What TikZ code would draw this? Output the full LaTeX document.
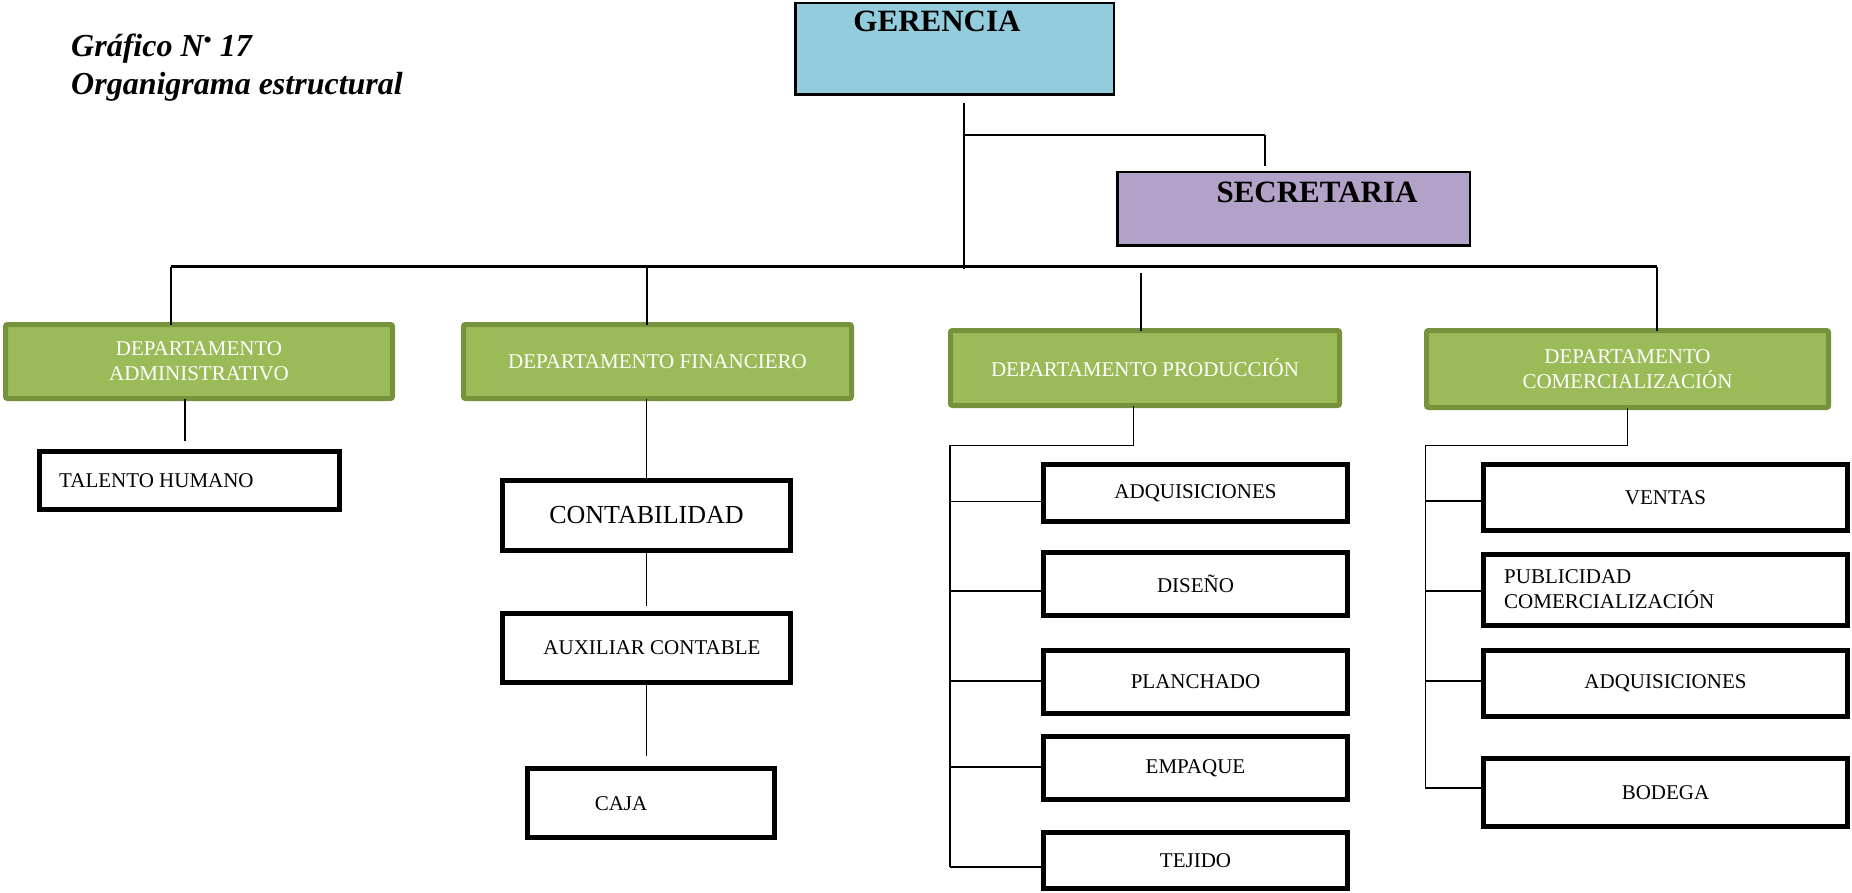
\documentclass[tikz,border=0pt]{standalone}
\usepackage{fontspec}
\setmainfont{Liberation Serif}
\definecolor{gerfill}{HTML}{93CDDD}
\definecolor{secfill}{HTML}{B2A2C7}
\definecolor{depfill}{HTML}{9BBB59}
\definecolor{depline}{HTML}{76923C}
\tikzset{
  basebox/.style={rectangle, inner sep=0pt, outer sep=0pt},
  topbox/.style={basebox, draw=black, line width=2.5pt},
  dept/.style={basebox, draw=depline, fill=depfill, line width=5pt, rounded corners=2pt,
    text=white, align=center, font=\fontsize{21}{25}\selectfont},
  unitbox/.style={basebox, draw=black, line width=5pt, align=center, font=\fontsize{21}{25}\selectfont},
  conn/.style={line width=1.6pt},
  bus/.style={line width=2.6pt},
  lbl/.style={inner sep=0pt, font=\fontsize{21}{25}\selectfont},
  toplbl/.style={inner sep=0pt, anchor=base, font=\bfseries\fontsize{31}{37}\selectfont},
  ttl/.style={inner sep=0pt, anchor=base west, font=\bfseries\itshape\fontsize{32}{38}\selectfont},
}
\begin{document}
\begin{tikzpicture}[x=1pt,y=-1pt]
\useasboundingbox (0,0) rectangle (1852,893);
% title
\node[ttl] (t1) at (71,57) {Gráfico N\textsuperscript{•} 17};
\node[ttl] (t2) at (71,95) {Organigrama estructural};
% top boxes
\node[topbox, fill=gerfill, minimum width=318.5pt, minimum height=91.5pt] (ger) at (954.5,49) {};
\node[toplbl] (gert) at (937,32) {GERENCIA};
\node[topbox, fill=secfill, minimum width=352.5pt, minimum height=73.5pt] (sec) at (1293.5,209) {};
\node[toplbl] (sect) at (1317,203) {SECRETARIA};
% departments
\node[dept, minimum width=387pt, minimum height=74pt] (adm) at (199,361.5) {DEPARTAMENTO\\ADMINISTRATIVO};
\node[dept, minimum width=388pt, minimum height=74pt] (fin) at (657.5,361.5) {DEPARTAMENTO FINANCIERO};
\node[dept, minimum width=389pt, minimum height=75pt] (prod) at (1145,368) {DEPARTAMENTO PRODUCCIÓN};
\node[dept, minimum width=402pt, minimum height=77pt] (com) at (1627.5,369) {DEPARTAMENTO\\COMERCIALIZACIÓN};
% admin
\node[unitbox, minimum width=300pt, minimum height=58pt] (tal) at (189.5,480.5) {};
\node[lbl, anchor=west] (talt) at (59,481) {TALENTO HUMANO};
% finance
\node[unitbox, minimum width=288pt, minimum height=70pt, font=\fontsize{26}{30}\selectfont] (cont) at (646.5,515.5) {CONTABILIDAD};
\node[unitbox, minimum width=288pt, minimum height=69pt] (aux) at (646.5,648) {};
\node[lbl] (auxt) at (652,648) {AUXILIAR CONTABLE};
\node[unitbox, minimum width=247pt, minimum height=69pt] (caja) at (651,803) {};
\node[lbl] (cajat) at (621,804) {CAJA};
% production
\node[unitbox, minimum width=304pt, minimum height=57pt] (padq) at (1195.5,493) {ADQUISICIONES};
\node[unitbox, minimum width=304pt, minimum height=63pt] (pdis) at (1195.5,584) {DISEÑO};
\node[unitbox, minimum width=304pt, minimum height=63pt] (ppla) at (1195.5,682) {PLANCHADO};
\node[unitbox, minimum width=304pt, minimum height=63pt] (pemp) at (1195.5,768) {EMPAQUE};
\node[unitbox, minimum width=304pt, minimum height=56pt] (ptej) at (1195.5,860.5) {TEJIDO};
% commercial
\node[unitbox, minimum width=364pt, minimum height=66pt] (cven) at (1665.5,497.5) {VENTAS};
\node[unitbox, minimum width=364pt, minimum height=71pt] (cpub) at (1665.5,589.5) {};
\node[lbl, anchor=west, align=left] (cpubt) at (1504,589.5) {PUBLICIDAD\\COMERCIALIZACIÓN};
\node[unitbox, minimum width=364pt, minimum height=66pt] (cadq) at (1665.5,683.5) {ADQUISICIONES};
\node[unitbox, minimum width=364pt, minimum height=68.5pt] (cbod) at (1665.5,792.7) {BODEGA};
% connectors: top
\coordinate (g0) at (964,103);
\coordinate (g1) at (964,269);
\draw[conn] (g0) -- (g1);
\coordinate (s0) at (964,135);
\coordinate (s1) at (1265,135);
\coordinate (s2) at (1265,166);
\draw[bus] (s0) -- (s1);
\draw[conn] (s1) -- (s2);
\coordinate (b0) at (171,266.7);
\coordinate (b1) at (1657,266.7);
\draw[bus] (b0) -- (b1);
\draw[conn] (b0) -- (b0 |- adm.north);
\coordinate (bf) at (647,266.7);
\draw[conn] (bf) -- (bf |- fin.north);
\coordinate (bp) at (1141,273);
\draw[conn] (bp) -- (bp |- prod.north);
\draw[conn] (b1) -- (b1 |- com.north);
% admin
\coordinate (ad) at (185,441);
\draw[conn] (ad |- adm.south) -- (ad);
% finance
\draw[conn] (fin.south -| cont.north) -- (cont.north);
\coordinate (f1) at (646.5,606);
\draw[conn] (cont.south) -- (f1);
\coordinate (f2) at (646.5,756);
\draw[conn] (aux.south) -- (f2);
% production tree
\coordinate (p1) at (1133.4,445.6);
\coordinate (p2) at (950,445.6);
\coordinate (p3) at (950,867);
\draw[conn] (p1 |- prod.south) -- (p1) -- (p2) -- (p3);
\coordinate (pa) at (950,501.6);
\coordinate (pb) at (950,591);
\coordinate (pc) at (950,681);
\coordinate (pd) at (950,767);
\draw[conn] (pa) -- (pa -| padq.west);
\draw[conn] (pb) -- (pb -| pdis.west);
\draw[conn] (pc) -- (pc -| ppla.west);
\draw[conn] (pd) -- (pd -| pemp.west);
\draw[conn] (p3) -- (p3 -| ptej.west);
% commercial tree
\coordinate (q1) at (1627.5,445.6);
\coordinate (q2) at (1425.4,445.6);
\coordinate (q3) at (1425.4,788);
\draw[conn] (q1 |- com.south) -- (q1) -- (q2) -- (q3);
\coordinate (qa) at (1425.4,501);
\coordinate (qb) at (1425.4,591);
\coordinate (qc) at (1425.4,681);
\draw[conn] (qa) -- (qa -| cven.west);
\draw[conn] (qb) -- (qb -| cpub.west);
\draw[conn] (qc) -- (qc -| cadq.west);
\draw[conn] (q3) -- (q3 -| cbod.west);
\end{tikzpicture}
\end{document}
